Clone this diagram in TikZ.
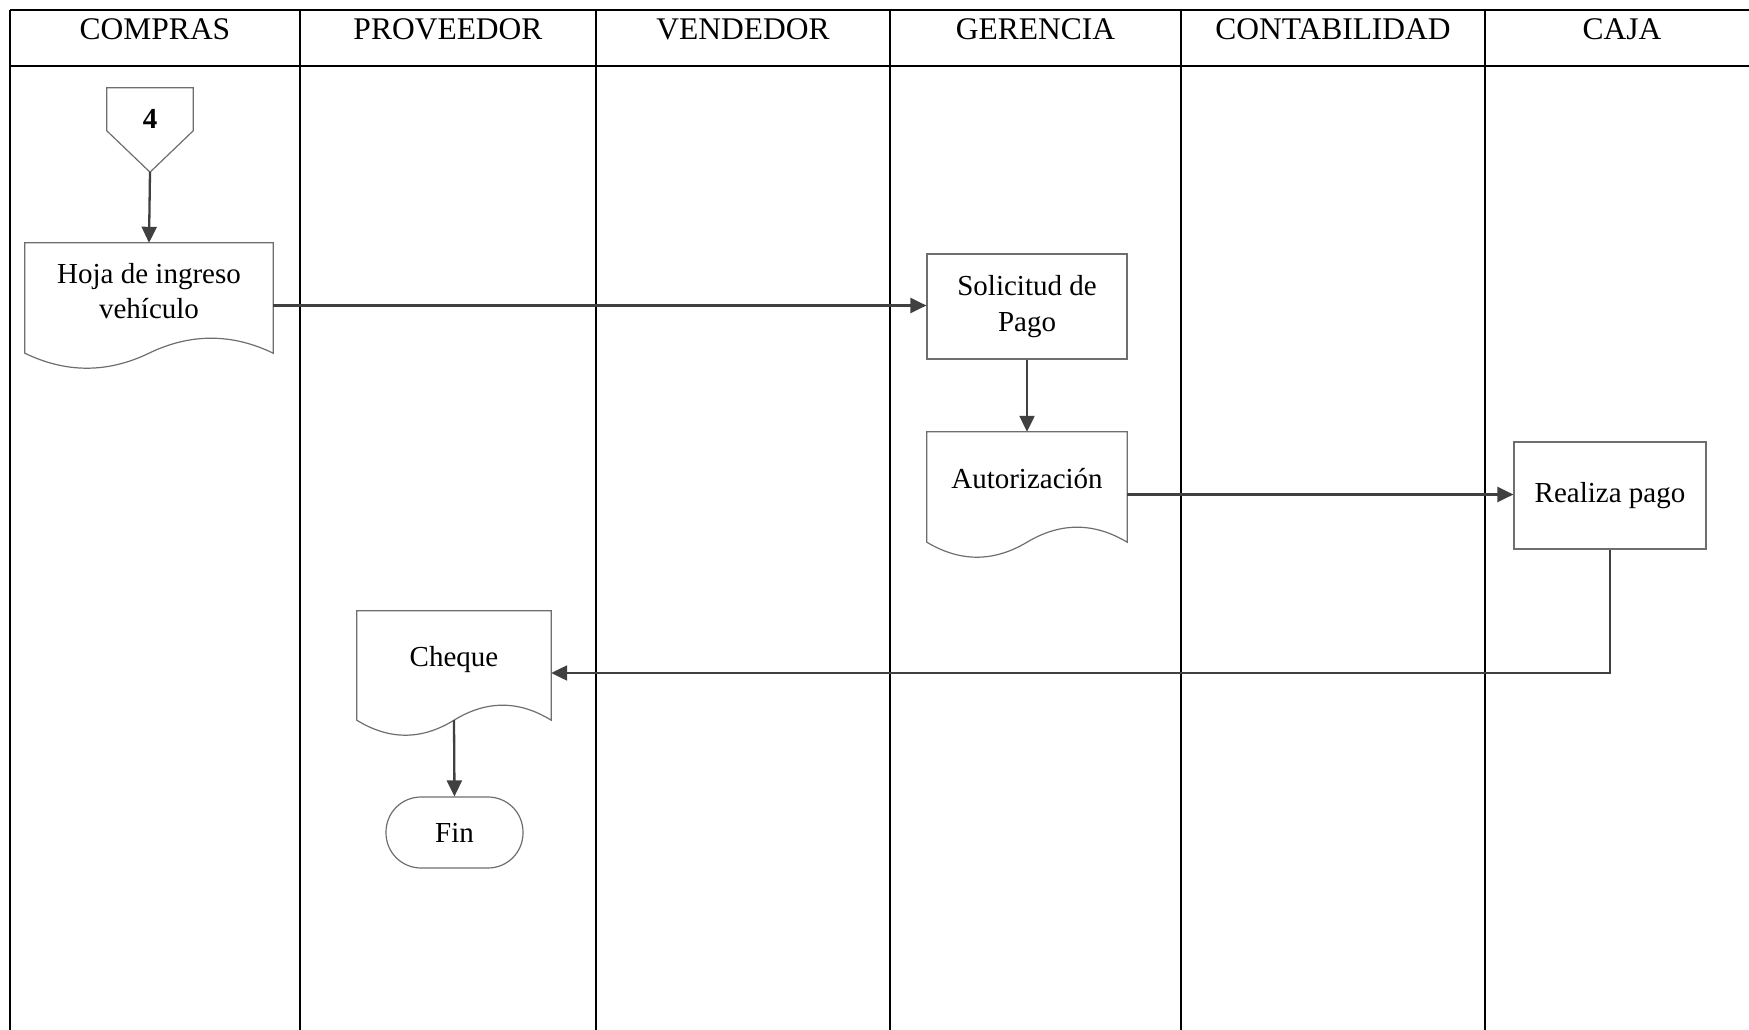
\documentclass[tikz,border=0pt]{standalone}
\usepackage{fontspec}
\setmainfont{Liberation Serif}
\usetikzlibrary{arrows.meta,calc}

\definecolor{conncol}{HTML}{404040}
\definecolor{shapecol}{HTML}{6E6E6E}

\tikzset{
  lane/.style={draw=black, line width=2.2pt},
  headtext/.style={anchor=base, inner sep=0pt, font=\fontsize{31.5}{36}\selectfont},
  bodytext/.style={inner sep=0pt, align=center, font=\fontsize{29}{35.5}\selectfont},
  hiddenbox/.style={rectangle, draw=none, inner sep=0pt},
  shapeline/.style={draw=shapecol, line width=1.2pt, fill=white},
  procbox/.style={rectangle, shapeline, bodytext},
  termbox/.style={rectangle, shapeline, rounded corners=35pt, bodytext},
  flow/.style={draw=conncol, line width=2.3pt, -{Triangle[length=16pt,width=15pt]}},
}

% document symbol: flat top, wavy bottom that dips 15pt below and rises 15pt above the side ends
\newcommand\drawdocument[1]{%
  \draw[shapeline] (#1.north west) -- (#1.north east) -- ($(#1.south east)+(0,-15)$)
    .. controls ($(#1.south east)!1/3!(#1.south)+(0,-35)$) and ($(#1.south east)!2/3!(#1.south)+(0,-35)$) .. ($(#1.south)+(0,-15)$)
    .. controls ($(#1.south)!1/3!(#1.south west)+(0,5)$) and ($(#1.south)!2/3!(#1.south west)+(0,5)$) .. ($(#1.south west)+(0,-15)$)
    -- cycle;}

\begin{document}
\begin{tikzpicture}[x=1pt,y=-1pt]
\useasboundingbox (0,0) rectangle (1749,1030);

% swimlane grid
\draw[lane] (10,10) -- (1749,10);
\draw[lane] (10,66) -- (1749,66);
\foreach \lx in {10,300,596,890,1181,1485}
  \draw[lane] (\lx,10) -- (\lx,1030);

% lane headers
\node[headtext] (h-compras) at (155,40) {COMPRAS};
\node[headtext] (h-proveedor) at (448,40) {PROVEEDOR};
\node[headtext] (h-vendedor) at (743,40) {VENDEDOR};
\node[headtext] (h-gerencia) at (1035.5,40) {GERENCIA};
\node[headtext] (h-contabilidad) at (1333,40) {CONTABILIDAD};
\node[headtext] (h-caja) at (1622,40) {CAJA};

% off-page connector
\node[hiddenbox, minimum width=86pt, minimum height=84pt] (c4) at (150,130) {};
\draw[shapeline] (c4.north west) -- (c4.north east) -- ($(c4.north east)+(0,43)$)
  -- (c4.south) -- ($(c4.north west)+(0,43)$) -- cycle;
\node[bodytext, anchor=base, font=\fontsize{29}{35}\selectfont\bfseries] (c4-text) at (150,129) {4};

% documents
\node[hiddenbox, minimum width=248pt, minimum height=125pt] (hoja) at (149,305.5) {};
\drawdocument{hoja}
\node[bodytext] (hoja-text) at (149,291) {Hoja de ingreso\\vehículo};

\node[hiddenbox, minimum width=200pt, minimum height=125pt] (auto) at (1027,494.5) {};
\drawdocument{auto}
\node[bodytext, anchor=base] (auto-text) at (1027,488) {Autorización};

\node[hiddenbox, minimum width=194pt, minimum height=124pt] (cheque) at (454,673) {};
\drawdocument{cheque}
\node[bodytext, anchor=base] (cheque-text) at (454,666) {Cheque};
\coordinate (cheque-out) at ($(cheque.south)+(0,-15)$);

% processes and terminator
\node[procbox, minimum width=200pt, minimum height=105pt] (sol) at (1027,306.5) {Solicitud de\\Pago};
\node[procbox, minimum width=192pt, minimum height=107pt] (real) at (1610,495.5) {Realiza pago};
\node[termbox, minimum width=137pt, minimum height=71pt] (fin) at (454.5,832.5) {Fin};

% flow connectors
\draw[flow] (c4.south) -- (hoja.north);
\draw[flow] (hoja.east) -- (hoja.east -| sol.west);
\draw[flow] (sol.south) -- (auto.north);
\draw[flow] (auto.east) -- (auto.east -| real.west);
\draw[flow] (real.south) |- (cheque.east);
\draw[flow] (cheque-out) -- (fin.north);
\end{tikzpicture}
\end{document}
